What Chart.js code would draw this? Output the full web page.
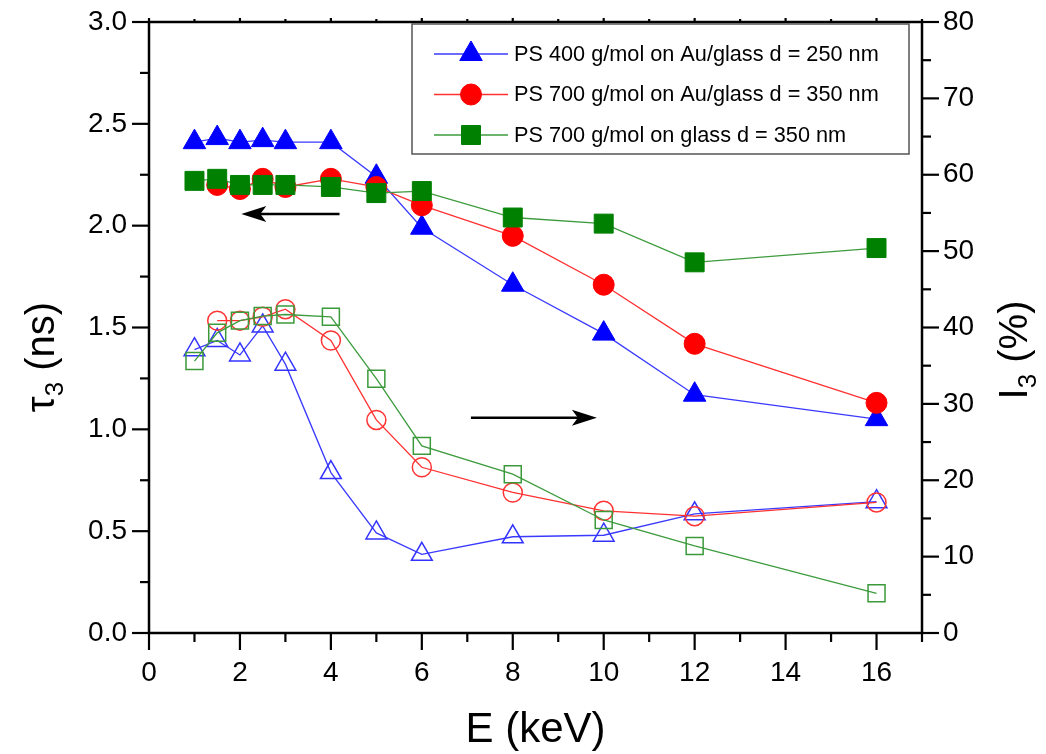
<!DOCTYPE html>
<html>
<head>
<meta charset="utf-8">
<script src="https://cdn.jsdelivr.net/npm/chart.js@4.4.0/dist/chart.umd.min.js"></script>
<style>
  html, body { margin: 0; padding: 0; background: #fff; }
  #wrap { width: 1046px; height: 754px; }
</style>
</head>
<body>
<div id="wrap"><canvas id="chart" width="1046" height="754"></canvas></div>
<script>
// positron energy E (keV)
const energy = [1, 1.5, 2, 2.5, 3, 4, 5, 6, 8, 10, 12, 16];
const energyPS700Au = [1.5, 2, 2.5, 3, 4, 5, 6, 8, 10, 12, 16];

// tau3 (ns) - filled symbols, left axis
const tauPS400Au = [2.41, 2.43, 2.41, 2.42, 2.41, 2.41, 2.24, 1.99, 1.71, 1.47, 1.17, 1.05];
const tauPS700Au = [2.20, 2.18, 2.23, 2.19, 2.23, 2.19, 2.10, 1.95, 1.71, 1.42, 1.13];
const tauPS700Glass = [2.22, 2.23, 2.20, 2.20, 2.20, 2.19, 2.16, 2.17, 2.04, 2.01, 1.82, 1.89];

// I3 (%) - open symbols, right axis
const intPS400Au = [37.1, 38.3, 36.4, 40.2, 35.2, 21.0, 13.1, 10.3, 12.6, 12.8, 15.6, 17.2];
const intPS700Au = [40.9, 40.9, 41.4, 42.4, 38.3, 27.9, 21.7, 18.4, 16.0, 15.3, 17.1];
const intPS700Glass = [35.6, 39.3, 40.9, 41.5, 41.7, 41.4, 33.3, 24.5, 20.8, 14.8, 11.4, 5.2];

const seriesLabels = [
  'PS 400 g/mol on Au/glass d = 250 nm',
  'PS 700 g/mol on Au/glass d = 350 nm',
  'PS 700 g/mol on glass d = 350 nm'
];

// tick labels
const energyTicks = [0, 2, 4, 6, 8, 10, 12, 14, 16];
const tauTicks = [0, 0.5, 1.0, 1.5, 2.0, 2.5, 3.0];
const intTicks = [0, 10, 20, 30, 40, 50, 60, 70, 80];

// arrows (data units, left axis)
const arrowLeft = { from: [4.19, 2.057], to: [2.03, 2.057] };
const arrowRight = { from: [7.08, 1.057], to: [9.85, 1.057] };

const FONT = "'Liberation Sans', Arial, sans-serif";

const pts = (xs, ys) => xs.map((x, i) => ({ x: x, y: ys[i] }));

const styles = [
  { line: '#3a3aff', fill: '#0000ff', open: '#3333ff', shape: 'triangle', rFill: 13, rOpen: 12 },
  { line: '#ff3030', fill: '#ff0000', open: '#ff3333', shape: 'circle', rFill: 10.5, rOpen: 9.5 },
  { line: '#3d9b3d', fill: '#008000', open: '#3a9a3a', shape: 'rect', rFill: 13.4, rOpen: 12 }
];

const filledData = [tauPS400Au, tauPS700Au, tauPS700Glass];
const openData = [intPS400Au, intPS700Au, intPS700Glass];
const xData = [energy, energyPS700Au, energy];

const datasets = [];
styles.forEach((s, i) => {
  datasets.push({
    label: seriesLabels[i],
    data: pts(xData[i], filledData[i]),
    yAxisID: 'y',
    borderColor: s.line,
    borderWidth: 1.3,
    pointStyle: s.shape,
    pointRadius: s.rFill,
    pointBackgroundColor: s.fill,
    pointBorderColor: s.fill,
    pointBorderWidth: 1,
    order: 3 - i
  });
  datasets.push({
    label: seriesLabels[i] + ' (I3)',
    data: pts(xData[i], openData[i]),
    yAxisID: 'y1',
    borderColor: s.line,
    borderWidth: 1.3,
    pointStyle: s.shape,
    pointRadius: s.rOpen,
    pointBackgroundColor: 'rgba(255,255,255,0)',
    pointBorderColor: s.open,
    pointBorderWidth: 1.5,
    order: 6 - i
  });
});

// minor ticks halfway between the labelled ones
const minorOf = (major, max) => {
  const step = major[1] - major[0];
  return major.map(v => v + step / 2).filter(v => v <= max + 1e-9);
};

const frame = {
  id: 'frame',
  afterDraw(chart) {
    const { ctx, chartArea: a, scales } = chart;
    const seg = (x1, y1, x2, y2) => { ctx.beginPath(); ctx.moveTo(x1, y1); ctx.lineTo(x2, y2); ctx.stroke(); };
    ctx.save();
    ctx.strokeStyle = '#000';
    ctx.lineWidth = 2.5;
    ctx.strokeRect(a.left, a.top, a.right - a.left, a.bottom - a.top);

    ctx.lineWidth = 2.2;
    energyTicks.forEach(v => {
      const x = scales.x.getPixelForValue(v);
      seg(x, a.bottom, x, a.bottom + 17);
      seg(x, a.top, x, a.top - 4);
    });
    minorOf(energyTicks, 17).forEach(v => {
      const x = scales.x.getPixelForValue(v);
      seg(x, a.bottom, x, a.bottom + 9);
      seg(x, a.top, x, a.top - 3);
    });
    tauTicks.forEach(v => {
      const y = scales.y.getPixelForValue(v);
      seg(a.left, y, a.left - 17, y);
    });
    minorOf(tauTicks, 3).forEach(v => {
      const y = scales.y.getPixelForValue(v);
      seg(a.left, y, a.left - 9, y);
    });
    intTicks.forEach(v => {
      const y = scales.y1.getPixelForValue(v);
      seg(a.right, y, a.right + 17, y);
    });
    minorOf(intTicks, 80).forEach(v => {
      const y = scales.y1.getPixelForValue(v);
      seg(a.right, y, a.right + 9, y);
    });

    // arrows
    const arrow = (ar) => {
      const x1 = scales.x.getPixelForValue(ar.from[0]);
      const y1 = scales.y.getPixelForValue(ar.from[1]);
      const x2 = scales.x.getPixelForValue(ar.to[0]);
      const y2 = scales.y.getPixelForValue(ar.to[1]);
      const dir = Math.sign(x2 - x1);
      ctx.lineWidth = 2.5;
      seg(x1, y1, x2 - dir * 14, y2);
      ctx.fillStyle = '#000';
      ctx.beginPath();
      ctx.moveTo(x2, y2);
      ctx.lineTo(x2 - dir * 25, y2 - 8);
      ctx.lineTo(x2 - dir * 19, y2);
      ctx.lineTo(x2 - dir * 25, y2 + 8);
      ctx.closePath();
      ctx.fill();
    };
    arrow(arrowLeft);
    arrow(arrowRight);

    // axis titles
    ctx.fillStyle = '#000';
    ctx.textBaseline = 'alphabetic';
    ctx.font = '42px ' + FONT;
    ctx.textAlign = 'center';
    ctx.fillText('E (keV)', (a.left + a.right) / 2, 742);

    const subTitle = (main, sub, rest, cx, cy) => {
      ctx.save();
      ctx.translate(cx, cy);
      ctx.rotate(-Math.PI / 2);
      ctx.textAlign = 'left';
      ctx.font = '40px ' + FONT;
      const w1 = ctx.measureText(main).width;
      const w3 = ctx.measureText(rest).width;
      ctx.font = '26px ' + FONT;
      const w2 = ctx.measureText(sub).width;
      const total = w1 + w2 + w3;
      let x = -total / 2;
      ctx.font = '40px ' + FONT;
      ctx.fillText(main, x, 0);
      x += w1;
      ctx.font = '26px ' + FONT;
      ctx.fillText(sub, x, 9);
      x += w2;
      ctx.font = '40px ' + FONT;
      ctx.fillText(rest, x, 0);
      ctx.restore();
    };
    subTitle('\u03c4', '3', ' (ns)', 54, 357);
    subTitle('I', '3', ' (%)', 1027, 350);
    ctx.restore();
  }
};

const legendBox = {
  id: 'legendBox',
  afterDraw(chart) {
    const ctx = chart.ctx;
    ctx.save();
    ctx.strokeStyle = '#555';
    ctx.lineWidth = 1.5;
    ctx.strokeRect(412, 24, 497, 130);
    styles.forEach((s, i) => {
      const y = 54 + i * 40.5;
      ctx.strokeStyle = s.line;
      ctx.lineWidth = 1.3;
      ctx.beginPath();
      ctx.moveTo(434, y);
      ctx.lineTo(508, y);
      ctx.stroke();
      ctx.fillStyle = s.fill;
      ctx.strokeStyle = s.fill;
      ctx.lineWidth = 1;
      Chart.helpers.drawPoint(ctx, { pointStyle: s.shape, radius: s.rFill, borderWidth: 1, rotation: 0 }, 471, y);
      ctx.fillStyle = '#000';
      ctx.font = '21.7px ' + FONT;
      ctx.textAlign = 'left';
      ctx.textBaseline = 'middle';
      ctx.fillText(seriesLabels[i], 514, y + 1);
    });
    ctx.restore();
  }
};

const tickFont = { family: FONT, size: 28 };

new Chart(document.getElementById('chart'), {
  type: 'line',
  data: { datasets: datasets },
  options: {
    responsive: false,
    animation: false,
    layout: { padding: { top: 22, left: 0, right: 0, bottom: 0 } },
    plugins: { legend: { display: false }, tooltip: { enabled: false } },
    scales: {
      x: {
        type: 'linear',
        position: 'bottom',
        min: 0,
        max: 17,
        afterBuildTicks: s => { s.ticks = energyTicks.map(v => ({ value: v })); },
        afterFit: s => { s.height = 121; },
        grid: { display: true, drawOnChartArea: false, drawTicks: true, tickLength: 17, tickColor: 'rgba(0,0,0,0)' },
        border: { display: false },
        ticks: { color: '#000', font: tickFont, padding: 6, maxRotation: 0, autoSkip: false, callback: v => String(v) }
      },
      y: {
        type: 'linear',
        position: 'left',
        min: 0,
        max: 3,
        afterBuildTicks: s => { s.ticks = tauTicks.map(v => ({ value: v })); },
        afterFit: s => { s.width = 149; },
        grid: { display: true, drawOnChartArea: false, drawTicks: true, tickLength: 17, tickColor: 'rgba(0,0,0,0)' },
        border: { display: false },
        ticks: { color: '#000', font: tickFont, padding: 5, autoSkip: false, callback: v => Number(v).toFixed(1) }
      },
      y1: {
        type: 'linear',
        position: 'right',
        min: 0,
        max: 80,
        afterBuildTicks: s => { s.ticks = intTicks.map(v => ({ value: v })); },
        afterFit: s => { s.width = 124; },
        grid: { display: true, drawOnChartArea: false, drawTicks: true, tickLength: 17, tickColor: 'rgba(0,0,0,0)' },
        border: { display: false },
        ticks: { color: '#000', font: tickFont, padding: 4, autoSkip: false, callback: v => String(v) }
      }
    }
  },
  plugins: [frame, legendBox]
});
</script>
</body>
</html>
